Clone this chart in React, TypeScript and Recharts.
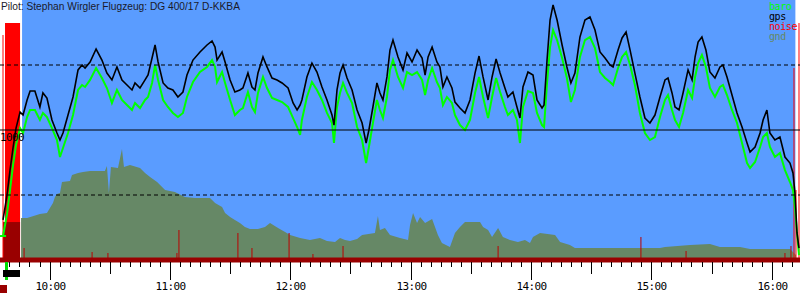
import React from 'react';
import { ComposedChart, Area, Bar, Line, XAxis, YAxis, ReferenceArea, ReferenceLine, Cell } from 'recharts';

// time in minutes since midnight, altitudes in m, noise in %
const T_MIN = 575.3;
const T_MAX = 974.1;
const FLIGHT_START = 586.3;
const FLIGHT_END = 971.8;
const MOTOR_END = 585.5;

const title = 'Pilot: Stephan Wirgler Flugzeug: DG 400/17 D-KKBA';
const hourTicks = [600, 660, 720, 780, 840, 900, 960];
const hourLabels = ['10:00', '11:00', '12:00', '13:00', '14:00', '15:00', '16:00'];
const altLines = [1500, 1000, 500];
const legendNames = ['baro', 'gps', 'noise', 'gnd'];
const legendColors = ['#00ff00', '#000000', '#ff0000', '#668866'];

const times = [
  576.8, 578.8, 580.3, 581.8, 583.3, 585.3, 586.8, 588.8, 590.3, 592.7,
  595.2, 596.7, 598.7, 601.2, 603.7, 605.2, 606.7, 609.2, 611.7, 614.2,
  616.2, 617.7, 620.2, 623.2, 626.1, 628.6, 631.1, 633.6, 636.1, 638.6,
  641.1, 642.6, 645.1, 647.6, 649.1, 651.1, 652.6, 654.1, 656.6, 659.0,
  661.5, 664.0, 666.5, 668.5, 671.5, 675.0, 678.5, 681.0, 682.5, 683.5,
  686.0, 687.5, 690.0, 692.4, 694.9, 696.4, 698.9, 700.9, 702.4, 703.9,
  706.4, 708.4, 710.9, 713.4, 715.9, 718.9, 721.4, 723.4, 724.9, 725.8,
  728.3, 730.8, 733.3, 735.8, 738.3, 740.8, 741.8, 743.3, 744.8, 746.3,
  748.3, 750.8, 753.3, 755.8, 757.8, 759.2, 761.2, 763.2, 764.7, 766.2,
  768.2, 769.7, 771.2, 773.7, 776.2, 778.2, 780.7, 783.2, 785.7, 787.2,
  788.7, 790.7, 793.1, 794.6, 796.1, 798.1, 800.6, 802.1, 804.6, 807.1,
  809.6, 812.1, 814.1, 816.1, 818.6, 820.6, 822.6, 824.6, 827.0, 828.5,
  831.0, 833.0, 834.5, 836.0, 838.5, 841.0, 843.0, 845.5, 846.5, 848.0,
  849.5, 851.0, 853.0, 855.5, 857.9, 859.9, 861.9, 864.4, 866.9, 869.4,
  871.9, 874.4, 876.9, 879.4, 880.9, 883.4, 885.4, 887.4, 889.4, 891.8,
  894.3, 896.8, 899.3, 901.8, 904.3, 906.8, 908.3, 910.3, 911.8, 913.8,
  915.8, 918.3, 920.3, 921.8, 923.3, 925.2, 927.2, 929.2, 931.7, 934.2,
  935.7, 937.7, 940.2, 942.7, 945.2, 947.7, 949.2, 951.7, 954.2, 955.7,
  957.6, 959.1, 961.6, 964.1, 966.6, 969.1, 970.6, 971.6, 972.6, 973.6,
];

const gpsAlt = [
  308, 500, 692, 862, 1015, 1138, 1115, 1231, 1300, 1300,
  1177, 1285, 1246, 1077, 977, 923, 977, 1115, 1254, 1462,
  1500, 1477, 1523, 1623, 1538, 1438, 1385, 1485, 1385, 1346,
  1308, 1362, 1323, 1385, 1423, 1554, 1654, 1523, 1362, 1323,
  1308, 1254, 1292, 1423, 1538, 1600, 1654, 1685, 1638, 1538,
  1600, 1523, 1385, 1292, 1308, 1323, 1438, 1331, 1308, 1438,
  1562, 1485, 1400, 1385, 1362, 1323, 1208, 1154, 1192, 1231,
  1408, 1515, 1446, 1331, 1231, 1115, 1038, 1308, 1438, 1500,
  1400, 1308, 1154, 1054, 900, 1000, 1177, 1362, 1285, 1231,
  1408, 1615, 1692, 1562, 1462, 1592, 1523, 1615, 1554, 1423,
  1562, 1638, 1523, 1485, 1331, 1408, 1323, 1215, 1169, 1131,
  1231, 1438, 1569, 1408, 1231, 1408, 1546, 1438, 1323, 1254,
  1292, 1177, 1092, 1331, 1446, 1423, 1231, 1169, 1192, 1538,
  1846, 1962, 1846, 1654, 1485, 1362, 1438, 1715, 1846, 1869,
  1769, 1600, 1554, 1500, 1485, 1615, 1708, 1754, 1615, 1438,
  1254, 1092, 1054, 1115, 1254, 1385, 1400, 1285, 1177, 1154,
  1285, 1462, 1385, 1562, 1677, 1715, 1615, 1446, 1400, 1485,
  1500, 1408, 1269, 1131, 1023, 900, 831, 869, 977, 1077,
  1154, 977, 923, 946, 792, 746, 669, 515, 208, 92,
];

const baroAlt = [
  185, 354, 538, 731, 885, 1015, 977, 1100, 1154, 1154,
  1077, 1131, 1100, 1015, 923, 792, 862, 977, 1115, 1308,
  1346, 1331, 1385, 1477, 1400, 1323, 1208, 1308, 1231, 1192,
  1154, 1208, 1169, 1231, 1254, 1362, 1500, 1385, 1231, 1177,
  1131, 1100, 1131, 1254, 1369, 1446, 1485, 1538, 1485, 1369,
  1446, 1362, 1231, 1115, 1154, 1169, 1292, 1177, 1138, 1285,
  1408, 1323, 1246, 1231, 1215, 1177, 1092, 1023, 962, 1077,
  1254, 1369, 1308, 1231, 1131, 1054, 900, 1177, 1285, 1362,
  1285, 1208, 1023, 923, 746, 869, 1054, 1231, 1154, 1092,
  1254, 1462, 1538, 1408, 1323, 1446, 1423, 1446, 1385, 1269,
  1385, 1477, 1369, 1323, 1192, 1254, 1208, 1115, 1038, 1000,
  1077, 1285, 1408, 1254, 1092, 1254, 1400, 1292, 1177, 1115,
  1154, 1077, 900, 1177, 1300, 1285, 1131, 1038, 1023, 1362,
  1638, 1769, 1692, 1554, 1400, 1215, 1308, 1562, 1692, 1715,
  1631, 1446, 1400, 1369, 1346, 1477, 1562, 1600, 1500, 1346,
  1131, 977, 923, 946, 1100, 1231, 1269, 1154, 1077, 1023,
  1131, 1308, 1246, 1408, 1515, 1577, 1485, 1323, 1254, 1331,
  1346, 1269, 1154, 1054, 900, 746, 708, 754, 869, 946,
  977, 869, 792, 823, 692, 600, 538, 408, 208, 38,
];

const gndTimes = [
  576.8, 585.3, 585.8, 588.8, 595.2, 598.7, 600.2, 601.7, 602.7, 603.7,
  605.2, 606.2, 610.2, 611.2, 614.2, 616.7, 620.2, 627.6, 628.6, 629.6,
  630.6, 634.1, 636.1, 637.1, 640.1, 645.1, 647.6, 650.1, 653.6, 657.6,
  662.5, 667.5, 672.5, 680.0, 682.5, 686.0, 687.5, 690.0, 692.4, 694.9,
  697.4, 699.9, 703.9, 707.4, 709.9, 713.9, 717.4, 719.9, 724.9, 729.8,
  734.8, 738.3, 742.3, 744.8, 747.3, 749.8, 753.3, 755.8, 762.2, 763.7,
  764.7, 767.2, 769.7, 774.7, 778.7, 779.7, 781.2, 783.2, 784.7, 787.2,
  790.7, 793.6, 795.6, 799.6, 802.1, 804.6, 807.1, 814.6, 816.1, 818.6,
  820.6, 823.6, 826.0, 829.5, 833.5, 837.0, 839.5, 841.0, 844.5, 852.0,
  854.5, 859.4, 861.9, 904.3, 906.8, 919.3, 929.2, 934.2, 944.2, 949.2,
  969.1, 972.1,
];

const gndAlt = [
  292, 292, 323, 323, 354, 362, 400, 438, 485, 508,
  515, 600, 608, 654, 669, 677, 685, 685, 723, 515,
  715, 708, 854, 715, 731, 708, 669, 638, 600, 538,
  523, 485, 477, 477, 438, 408, 362, 331, 308, 285,
  254, 238, 238, 254, 285, 246, 215, 192, 169, 154,
  169, 146, 138, 169, 154, 146, 162, 192, 208, 338,
  231, 246, 192, 169, 154, 269, 362, 285, 331, 285,
  315, 192, 131, 100, 208, 254, 292, 292, 254, 231,
  177, 246, 177, 154, 138, 154, 131, 177, 208, 192,
  138, 115, 92, 92, 100, 115, 123, 100, 100, 85,
  85, 38,
];

const noiseTimes = [
  576.8, 587.3, 621.2, 629.1, 663.5, 664.5, 693.9, 700.9, 719.4, 731.3,
  746.3, 823.6, 894.8, 917.3, 966.6, 969.6, 971.1, 972.1, 973.6,
];
const noiseLevel = [
  86.5, 4.6, 3.1, 2.7, 2.7, 11.5, 10.4, 4.6, 10.4, 2.3,
  5.4, 5.4, 8.8, 3.5, 2.7, 5.4, 73.8, 26.9, 91.2,
];

// engine run after self launch
const motorTimes = [577.8, 585.3];
const motorLevel = [91.2, 91.2];

const minorTicks: number[] = [];
for (let m = 580; m <= 970; m += 5) minorTicks.push(m);

const rows = new Map<number, any>();
const row = (t: number) => {
  if (!rows.has(t)) rows.set(t, { t });
  return rows.get(t);
};
times.forEach((t, i) => { row(t).gps = gpsAlt[i]; row(t).baro = baroAlt[i]; });
gndTimes.forEach((t, i) => {
  if (t <= MOTOR_END) row(t).gndMotor = gndAlt[i];
  else row(t).gnd = gndAlt[i];
});
noiseTimes.forEach((t, i) => { row(t).noise = noiseLevel[i]; });
motorTimes.forEach((t, i) => { row(t).motor = motorLevel[i]; });
const data = [...rows.values()].sort((a, b) => a.t - b.t);

const mono = '"DejaVu Sans Mono", monospace';
const noDot = () => null;

const TimeTick = (props: any) => {
  const { x, y, payload } = props;
  const v = payload.value;
  const px = Math.round(x) + 0.5;
  const len = v % 60 === 0 ? 18 : v % 30 === 0 ? 12 : 5;
  const idx = hourTicks.indexOf(v);
  return (
    <g>
      <line x1={px} x2={px} y1={y + 2} y2={y + 2 + len} stroke="#000" strokeWidth={1} />
      {idx >= 0 && (
        <text x={px} y={y + 30} textAnchor="middle" fontFamily={mono} fontSize={11} letterSpacing={-0.6} fill="#000">
          {hourLabels[idx]}
        </text>
      )}
    </g>
  );
};

const AltLabel = (props: any) => {
  const vb = props.viewBox || {};
  return (
    <text x={0} y={(vb.y || 0) + 11} fontFamily={mono} fontSize={11} letterSpacing={-0.6} fill="#000">
      1000
    </text>
  );
};

export default function App() {
  return (
    <div style={{ position: 'absolute', left: 0, top: 0, width: 800, height: 300, background: '#fff' }}>
      <ComposedChart width={800} height={300} data={data} margin={{ top: 0, right: 0, bottom: 0, left: 0 }}>
        <XAxis
          dataKey="t"
          type="number"
          domain={[T_MIN, T_MAX]}
          allowDataOverflow
          ticks={minorTicks}
          interval={0}
          height={40}
          tickSize={0}
          tickMargin={0}
          tickLine={false}
          axisLine={{ stroke: '#990000', strokeWidth: 5 }}
          tick={<TimeTick />}
        />
        <YAxis yAxisId="alt" domain={[0, 2000]} hide allowDataOverflow />
        <YAxis yAxisId="n" domain={[0, 100]} hide allowDataOverflow />
        <ReferenceArea yAxisId="alt" x1={FLIGHT_START} x2={FLIGHT_END} y1={0} y2={2000} fill="#5a9cff" fillOpacity={1} stroke="none" ifOverflow="hidden" />
        <Area yAxisId="n" dataKey="motor" type="linear" fill="#ff0000" fillOpacity={1} stroke="none" dot={false} activeDot={false} connectNulls isAnimationActive={false} />
        <Area yAxisId="alt" dataKey="gnd" type="linear" fill="#668866" fillOpacity={1} stroke="none" dot={false} activeDot={false} connectNulls isAnimationActive={false} />
        <Area yAxisId="alt" dataKey="gndMotor" type="linear" fill="#990000" fillOpacity={1} stroke="none" dot={false} activeDot={false} connectNulls isAnimationActive={false} />
        <Bar yAxisId="n" dataKey="noise" barSize={1} isAnimationActive={false}>
          {data.map((d, i) => (
            <Cell key={i} fill={(d.noise || 0) > 20 ? '#ff0000' : '#bb0000'} />
          ))}
        </Bar>
        <Line yAxisId="alt" dataKey="baro" type="linear" stroke="#00ff00" strokeWidth={2} dot={noDot} activeDot={false} connectNulls isAnimationActive={false} />
        <Line yAxisId="alt" dataKey="gps" type="linear" stroke="#000000" strokeWidth={1.6} dot={noDot} activeDot={false} connectNulls isAnimationActive={false} />
        {altLines.map((v) => (
          <ReferenceLine
            key={v}
            yAxisId="alt"
            y={v}
            stroke="#000"
            strokeWidth={1}
            strokeDasharray={v === 1000 ? undefined : '4 3'}
            label={v === 1000 ? AltLabel : undefined}
          />
        ))}
      </ComposedChart>
      <div style={{ position: 'absolute', left: 1, top: 0, fontFamily: '"Liberation Sans", Arial, sans-serif', fontSize: 10.2, lineHeight: '14px', color: '#1a1a2a', whiteSpace: 'nowrap' }}>
        {title}
      </div>
      <div style={{ position: 'absolute', left: 769, top: 2, fontFamily: mono, fontSize: 10, letterSpacing: -0.4 }}>
        {legendNames.map((n, i) => (
          <div key={n} style={{ color: legendColors[i], height: 10, lineHeight: '10px' }}>{n}</div>
        ))}
      </div>
      <div style={{ position: 'absolute', left: 0, top: 235, width: 6, height: 2, background: '#00ff00' }} />
      <div style={{ position: 'absolute', left: 5, top: 262, width: 3, height: 18, background: '#00dd00' }} />
      <div style={{ position: 'absolute', left: 3, top: 270, width: 17, height: 7, background: '#000' }} />
      <div style={{ position: 'absolute', left: 0, top: 285, width: 7, height: 8, background: '#990000' }} />
    </div>
  );
}
